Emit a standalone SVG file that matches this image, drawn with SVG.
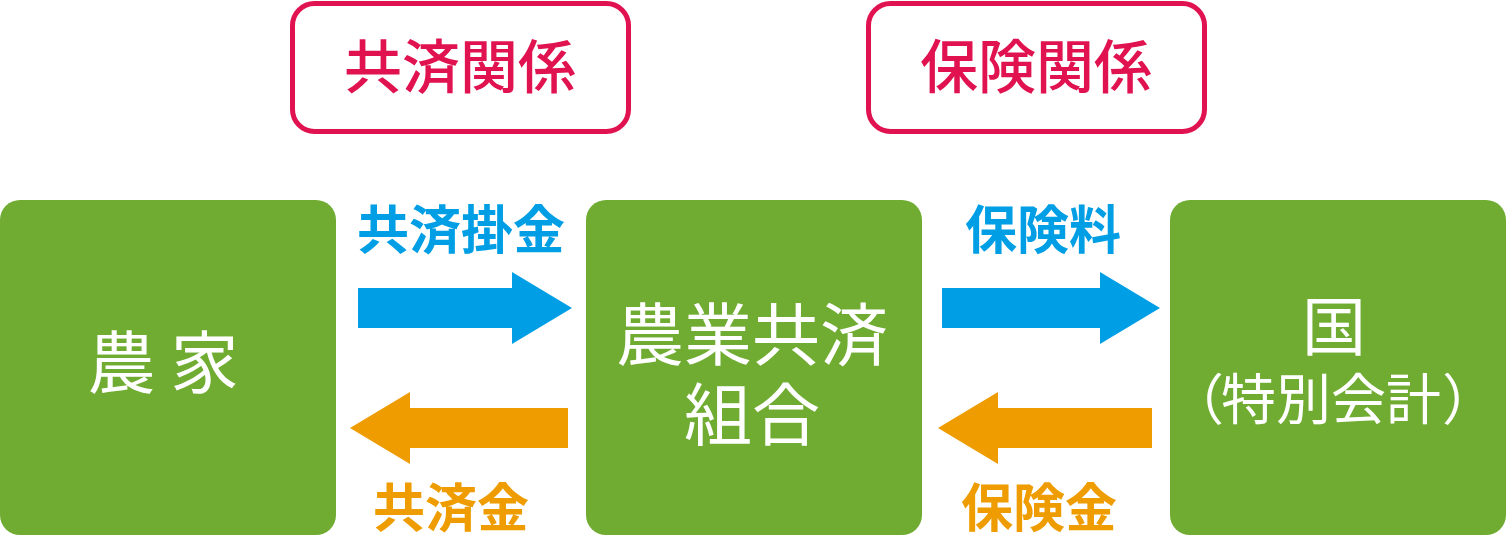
<svg xmlns="http://www.w3.org/2000/svg" width="1506" height="536" viewBox="0 0 1506 536">
<style>
.node{fill:#6FAC31;}
.ntxt{fill:#FFFFFF;font-family:"Noto Sans CJK JP","Noto Sans CJK SC",sans-serif;font-size:68px;text-anchor:middle;}
.rel{fill:#FFFFFF;stroke:#E0124F;stroke-width:5;}
.reltxt{fill:#E0124F;font-family:"Noto Sans CJK JP","Noto Sans CJK SC",sans-serif;font-size:58px;font-weight:500;text-anchor:middle;}
.blue{fill:#009FE5;}
.orange{fill:#EE9C00;}
.lbl{font-family:"Noto Sans CJK JP","Noto Sans CJK SC",sans-serif;font-size:52px;font-weight:bold;text-anchor:middle;}
</style>
<rect width="1506" height="536" fill="#FFFFFF"/>
<g id="rel-kyosai">
<rect class="rel" x="292.5" y="3.5" width="336" height="128" rx="22"/>
<text class="reltxt" x="460" y="88">共済関係</text>
</g>
<g id="rel-hoken">
<rect class="rel" x="868.5" y="3.5" width="336" height="128" rx="22"/>
<text class="reltxt" x="1036" y="88">保険関係</text>
</g>
<g id="node-noka">
<rect class="node" x="0" y="200" width="336" height="335" rx="20"/>
<text class="ntxt" x="163" y="388">農 家</text>
</g>
<g id="node-kumiai">
<rect class="node" x="586" y="200" width="336" height="335" rx="20"/>
<text class="ntxt" x="752" y="360">農業共済</text>
<text class="ntxt" x="752" y="440">組合</text>
</g>
<g id="node-kuni">
<rect class="node" x="1170" y="200" width="336" height="335" rx="20"/>
<text class="ntxt" x="1334" y="350" style="font-size:64px">国</text>
<text class="ntxt" x="1331" y="419" style="font-size:55px">特別会計</text>
<text class="ntxt" x="1224" y="419" style="font-size:55px;text-anchor:end">（</text>
<text class="ntxt" x="1442" y="419" style="font-size:55px;text-anchor:start">）</text>
</g>
<g id="connectors">
<polygon class="blue" points="358,288 512,288 512,272 572,308 512,344 512,328 358,328"/>
<text class="lbl blue" x="461" y="249">共済掛金</text>
<polygon class="orange" points="568,408 410,408 410,392 350,428 410,464 410,448 568,448"/>
<text class="lbl orange" x="451" y="527">共済金</text>
<polygon class="blue" points="942,288 1100,288 1100,272 1160,308 1100,344 1100,328 942,328"/>
<text class="lbl blue" x="1043" y="249">保険料</text>
<polygon class="orange" points="1152,408 998,408 998,392 938,428 998,464 998,448 1152,448"/>
<text class="lbl orange" x="1039" y="527">保険金</text>
</g>
</svg>
